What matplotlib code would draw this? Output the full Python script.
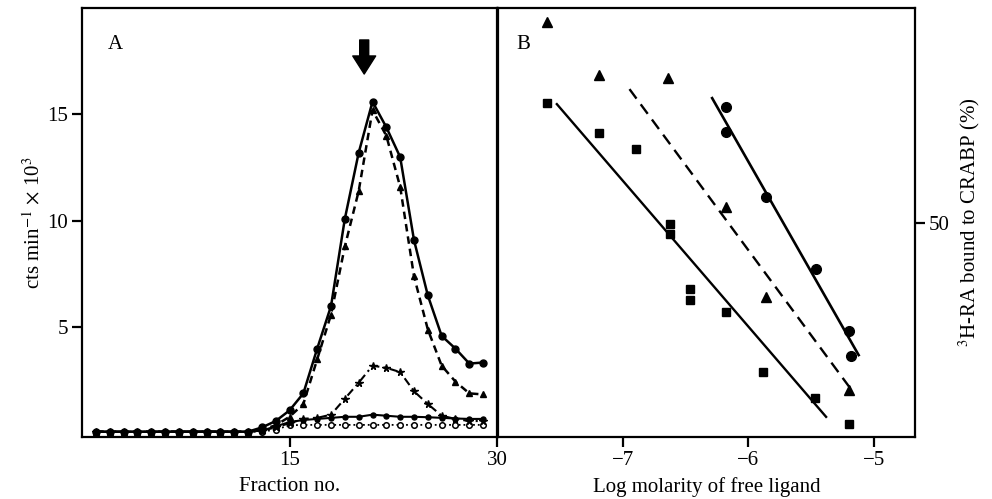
import matplotlib
matplotlib.use("Agg")
import matplotlib.pyplot as plt

plt.rcParams["font.family"] = ["Liberation Serif", "DejaVu Serif"]
plt.rcParams["mathtext.fontset"] = "stix"

# Panel A: elution profiles
fractions = list(range(1, 30))
base = [0.1] * 12
prof_circle = base + [0.3, 0.6, 1.1, 1.9, 4.0, 6.0, 10.1, 13.2, 15.6, 14.4, 13.0, 9.1, 6.5, 4.6, 4.0, 3.3, 3.35]
prof_triangle = base + [0.2, 0.4, 0.8, 1.4, 3.5, 5.6, 8.8, 11.4, 15.2, 14.0, 11.6, 7.4, 4.9, 3.2, 2.45, 1.9, 1.85]
prof_star = base + [0.15, 0.3, 0.5, 0.7, 0.75, 0.9, 1.65, 2.4, 3.2, 3.1, 2.9, 2.0, 1.4, 0.85, 0.7, 0.6, 0.6]
prof_dot = base + [0.15, 0.35, 0.55, 0.65, 0.7, 0.75, 0.8, 0.8, 0.9, 0.85, 0.8, 0.8, 0.78, 0.75, 0.72, 0.7, 0.7]
prof_open = base + [0.1, 0.2, 0.4, 0.42, 0.42, 0.42, 0.42, 0.42, 0.42, 0.42, 0.42, 0.42, 0.42, 0.42, 0.42, 0.42, 0.42]
arrow_fraction = 20.4

# Panel B: competition
tri_x = [-7.61, -7.19, -6.64, -6.18, -5.86, -5.20]
tri_y = [96.7, 84.4, 83.7, 53.6, 32.6, 11.0]
sq_x = [-7.61, -7.19, -6.90, -6.63, -6.63, -6.47, -6.47, -6.18, -5.88, -5.47, -5.20]
sq_y = [77.9, 70.9, 67.1, 49.7, 47.3, 34.5, 31.9, 29.1, 15.2, 9.1, 3.0]
circ_x = [-6.18, -6.18, -5.86, -5.46, -5.20, -5.18]
circ_y = [76.9, 71.1, 55.9, 39.2, 24.7, 18.9]
sq_fit_x, sq_fit_y = [-7.53, -5.38], [77.6, 4.7]
tri_fit_x, tri_fit_y = [-6.95, -5.16], [81.1, 10.3]
circ_fit_x, circ_fit_y = [-6.29, -5.12], [79.0, 19.1]

fig = plt.figure(figsize=(9.92, 4.99), dpi=100)
ax_a = fig.add_axes([0.0827, 0.1242, 0.4183, 0.8597])
ax_b = fig.add_axes([0.502, 0.1242, 0.4204, 0.8597])

k = "black"
ax_a.plot(fractions, prof_open, ls=":", lw=1.3, color=k, marker="o", ms=4, mfc="white", mew=1.1)
ax_a.plot(fractions, prof_dot, ls="-", lw=1.5, color=k, marker="o", ms=3.6)
ax_a.plot(fractions, prof_star, ls=(0, (4, 2, 1, 2)), lw=1.5, color=k, marker="*", ms=5.5)
ax_a.plot(fractions, prof_triangle, ls=(0, (3, 2)), lw=1.8, color=k, marker="^", ms=5)
ax_a.plot(fractions, prof_circle, ls="-", lw=1.8, color=k, marker="o", ms=5)
ax_a.annotate("", xy=(arrow_fraction, 16.9), xytext=(arrow_fraction, 18.5),
              arrowprops=dict(facecolor=k, edgecolor=k, width=6.5, headwidth=16.5, headlength=13, shrink=0))

ax_a.set_xlim(0, 30)
ax_a.set_ylim(-0.15, 20.0)
ax_a.set_xticks([15, 30])
ax_a.set_yticks([5, 10, 15])
ax_a.set_xlabel("Fraction no.", fontsize=15, labelpad=5)
ax_a.set_ylabel(r"cts min$^{-1}$ $\times$ 10$^{3}$", fontsize=15, labelpad=2)
ax_a.text(0.063, 0.905, "A", transform=ax_a.transAxes, fontsize=15)

ax_b.plot(sq_fit_x, sq_fit_y, "-", color=k, lw=1.7)
ax_b.plot(tri_fit_x, tri_fit_y, ls=(0, (5, 3)), color=k, lw=1.7)
ax_b.plot(circ_fit_x, circ_fit_y, "-", color=k, lw=1.9)
ax_b.plot(sq_x, sq_y, "s", color=k, ms=6)
ax_b.plot(tri_x, tri_y, "^", color=k, ms=7)
ax_b.plot(circ_x, circ_y, "o", color=k, ms=7)

ax_b.set_xlim(-8.0, -4.67)
ax_b.set_ylim(0, 100)
ax_b.set_xticks([-7, -6, -5])
ax_b.set_xticklabels(["\u22127", "\u22126", "\u22125"])
ax_b.yaxis.tick_right()
ax_b.yaxis.set_label_position("right")
ax_b.set_yticks([50])
ax_b.set_xlabel("Log molarity of free ligand", fontsize=15, labelpad=5)
ax_b.set_ylabel(r"$^{3}$H-RA bound to CRABP (%)", fontsize=15, labelpad=5)
ax_b.text(0.045, 0.905, "B", transform=ax_b.transAxes, fontsize=15)

for ax in (ax_a, ax_b):
    for s in ax.spines.values():
        s.set_linewidth(1.6)
    ax.tick_params(direction="out", length=7, width=1.6, labelsize=15, pad=3)

fig.savefig("out.png", dpi=100)
